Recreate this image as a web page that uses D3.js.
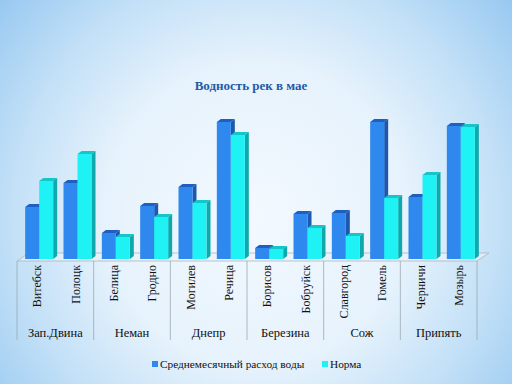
<!DOCTYPE html>
<html><head><meta charset="utf-8">
<script src="https://cdn.jsdelivr.net/npm/d3@7"></script>
<style>html,body{margin:0;padding:0;overflow:hidden;background:#fff}svg{display:block}
text{font-family:'Liberation Serif','Times New Roman',serif}</style>
</head><body>
<script>
const categories = ["Витебск","Полоцк","Белица","Гродно","Могилев","Речица","Борисов","Бобруйск","Славгород","Гомель","Черничи","Мозырь"];
const groups = ["Зап.Двина","Неман","Днепр","Березина","Сож","Припять"];
const seriesNames = ["Среднемесячный расход воды","Норма"];
const avgFlow = [52, 76, 26, 53, 72, 137, 11, 45, 46, 137, 62, 133];
const normFlow = [78, 105, 22, 42, 56, 124, 10, 31, 23, 61, 84, 132];

const W = 512, H = 384;
const svg = d3.select("body").append("svg").attr("width", W).attr("height", H);
const defs = svg.append("defs");
const rg = defs.append("radialGradient").attr("id","bg").attr("gradientUnits","userSpaceOnUse")
  .attr("cx",256).attr("cy",215).attr("r",340);
[[0,"#f3f9ff"],[0.45,"#e6f2fc"],[0.72,"#c2e0f7"],[1,"#95c7f0"]].forEach(s=>rg.append("stop").attr("offset",s[0]).attr("stop-color",s[1]));
svg.append("rect").attr("width",W).attr("height",H).attr("fill","url(#bg)");

const x0 = 17, x1 = 477, base = 259;
const x = d3.scaleBand().domain(categories).range([x0, x1]).padding(0);
const y = d3.scaleLinear().domain([0, 140]).range([base, base - 140]);
const barW = 14, dx = 4, dy = 3;

// floor
const fdx = 12, fdy = 8;
svg.append("polygon")
  .attr("points", [[x0,base+2],[x1,base+2],[x1+fdx,base+2-fdy],[x0+fdx,base+2-fdy]].map(p=>p.join(",")).join(" "))
  .attr("fill","rgba(235,242,248,0.6)").attr("stroke","#aab6c0").attr("stroke-width",0.8);

// group separators
const groupW = (x1 - x0) / groups.length;
const sepXs = d3.range(groups.length + 1).map(i => x0 + i * groupW);
svg.selectAll("line.sep").data(sepXs).enter().append("line")
  .attr("x1", d=>d).attr("x2", d=>d).attr("y1", base+2).attr("y2", 340)
  .attr("stroke","#9aa8b4").attr("stroke-width",0.8);

const series = [
  {vals: avgFlow, front:"#2f88ee", top:"#1e5fbf", side:"#1c58b0"},
  {vals: normFlow, front:"#1ff2f4", top:"#14c6ca", side:"#0fa9ad"}
];
const cats = categories.map((c,i)=>({c,i}));
series.forEach((s, si) => {
  const g = svg.append("g");
  cats.forEach(d => {
    const xl = x(d.c) + x.bandwidth()/2 - barW + 3 + si*barW;
    const yt = y(s.vals[d.i]);
    g.append("polygon").attr("points", [[xl,yt],[xl+dx,yt-dy],[xl+barW+dx,yt-dy],[xl+barW,yt]].map(p=>p.join(",")).join(" ")).attr("fill", s.top);
    g.append("polygon").attr("points", [[xl+barW,yt],[xl+barW+dx,yt-dy],[xl+barW+dx,base-dy],[xl+barW,base]].map(p=>p.join(",")).join(" ")).attr("fill", s.side);
    g.append("rect").attr("x", xl).attr("y", yt).attr("width", barW).attr("height", base - yt).attr("fill", s.front);
  });
});

// category labels
svg.selectAll("text.cat").data(categories).enter().append("text")
  .attr("transform", d => `translate(${x(d) + x.bandwidth()/2 + 1},265) rotate(-90)`)
  .attr("text-anchor","end").attr("dy","0.35em")
  .attr("font-size",12).attr("fill","#111")
  .text(d=>d);

// group labels
svg.selectAll("text.grp").data(groups).enter().append("text")
  .attr("x", (d,i) => x0 + (i+0.5)*groupW).attr("y", 337)
  .attr("text-anchor","middle")
  .attr("font-size",12.5).attr("fill","#111")
  .text(d=>d);

// title
svg.append("text").attr("x",251).attr("y",90).attr("text-anchor","middle")
  .attr("font-weight","bold").attr("font-size",13)
  .attr("fill","#1f5aa8").text("Водность рек в мае");

// legend
const legX = [152, 322];
seriesNames.forEach((n,i)=>{
  svg.append("rect").attr("x",legX[i]).attr("y",361).attr("width",6).attr("height",6).attr("fill",series[i].front);
  svg.append("text").attr("x",legX[i]+8).attr("y",367.5)
    .attr("font-size",11.3).attr("fill","#111").text(n);
});
</script>
</body></html>
